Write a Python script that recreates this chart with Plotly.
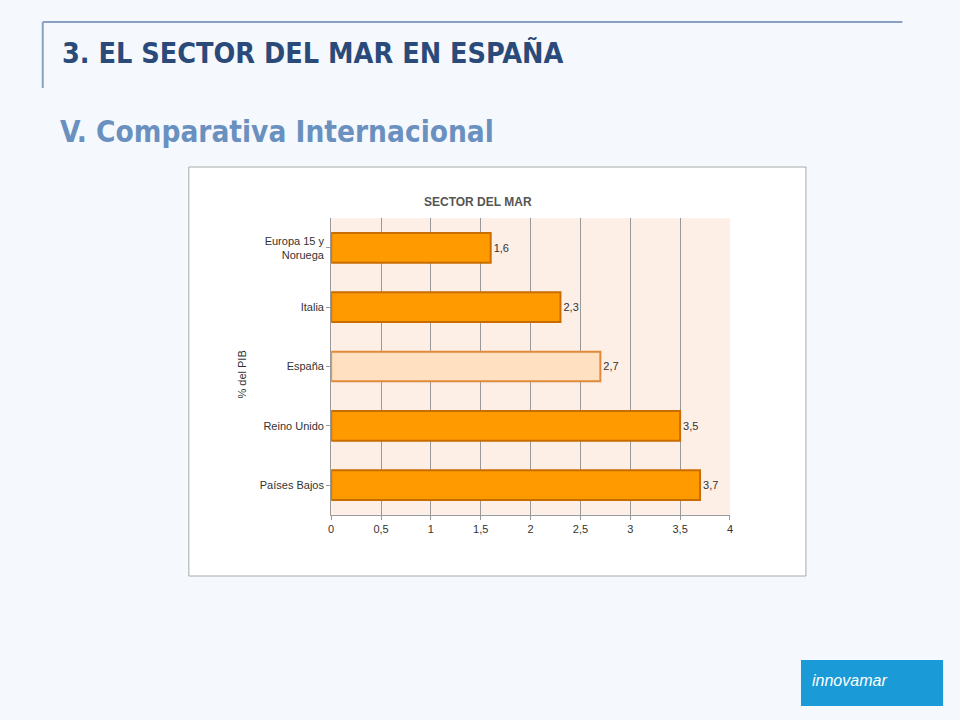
import plotly.graph_objects as go

categories = ["Países Bajos", "Reino Unido", "España", "Italia", "Europa 15 y<br>Noruega"]
values = [3.7, 3.5, 2.7, 2.3, 1.6]
colors = ["#ff9a00", "#ff9a00", "#ffe0c0", "#ff9a00", "#ff9a00"]
line_colors = ["#c86e00", "#c86e00", "#e08a3a", "#c86e00", "#c86e00"]
tick_vals = [0, 0.5, 1, 1.5, 2, 2.5, 3, 3.5, 4]

fig = go.Figure()
fig.add_trace(go.Bar(
    y=categories, x=values, orientation="h",
    marker=dict(color=colors, line=dict(color=line_colors, width=2)),
    width=0.5,
    text=[f"{v:.1f}".replace(".", ",") for v in values],
    textposition="outside", textfont=dict(size=11, color="#333"),
    cliponaxis=False,
))

fig.update_layout(
    width=960, height=720,
    margin=dict(l=0, r=0, t=0, b=0),
    paper_bgcolor="#f5f8fc", plot_bgcolor="#fdeee6",
    showlegend=False,
    separators=",.",
    font=dict(family="Liberation Sans", color="#333"),
    xaxis=dict(domain=[0.344, 0.762], range=[0, 4], tickvals=tick_vals,
               ticktext=[str(t).replace(".", ",") for t in tick_vals],
               showgrid=True, gridcolor="#999", gridwidth=1, zeroline=False,
               showline=True, linecolor="#999", ticks="outside", ticklen=4,
               tickcolor="#999", tickfont=dict(size=11), layer="below traces"),
    yaxis=dict(domain=[0.285, 0.697], showline=True, linecolor="#999",
               ticks="outside", tickcolor="#999", ticklen=4,
               tickfont=dict(size=11), showgrid=False),
    shapes=[
        dict(type="line", xref="paper", yref="paper", x0=40/960, x1=905/960, y0=1-22/720, y1=1-22/720,
             line=dict(color="#8aa0c0", width=2)),
        dict(type="line", xref="paper", yref="paper", x0=40/960, x1=40/960, y0=1-22/720, y1=1-88/720,
             line=dict(color="#8aa0c0", width=2)),
        dict(type="rect", xref="paper", yref="paper", x0=187/960, x1=808/960, y0=1-576/720, y1=1-167/720,
             line=dict(color="#aaa", width=1), fillcolor="white", layer="below"),
        dict(type="rect", xref="x domain", yref="y domain", x0=0, x1=1, y0=0, y1=1,
             line=dict(width=0), fillcolor="#fdeee6", layer="below"),
        dict(type="rect", xref="paper", yref="paper", x0=803/960, x1=946/960, y0=1-706/720, y1=1-660/720,
             line=dict(width=0), fillcolor="#1a9ad6"),
    ],
    annotations=[
        dict(text="<b>3. EL SECTOR DEL MAR EN ESPAÑA</b>", x=57/960, y=1-53/720, xref="paper", yref="paper",
             xanchor="left", yanchor="middle", showarrow=False, font=dict(size=28.5, color="#2a4a7a", family="DejaVu Sans Condensed")),
        dict(text="<b>V. Comparativa Internacional</b>", x=55/960, y=1-132/720, xref="paper", yref="paper",
             xanchor="left", yanchor="middle", showarrow=False, font=dict(size=29.5, color="#6a90c0", family="DejaVu Sans Condensed")),
        dict(text="<b>SECTOR DEL MAR</b>", x=478/960, y=1-193/720, xref="paper", yref="paper",
             showarrow=False, font=dict(size=12, color="#555")),
        dict(text="% del PIB", x=232/960, y=1-375/720, xref="paper", yref="paper", textangle=-90,
             showarrow=False, font=dict(size=11, color="#333")),
        dict(text="<i>innovamar</i>", x=812/960, y=1-680/720, xref="paper", yref="paper",
             xanchor="left", yanchor="middle", showarrow=False, font=dict(size=16, color="white")),
    ],
)
fig.write_html("out.html", config={"displayModeBar": False})
with open("out.html", encoding="utf-8") as f:
    html = f.read()
html = html.replace("<head>", "<head><style>html,body{margin:0;padding:0;overflow:hidden;}</style>", 1)
with open("out.html", "w", encoding="utf-8") as f:
    f.write(html)
